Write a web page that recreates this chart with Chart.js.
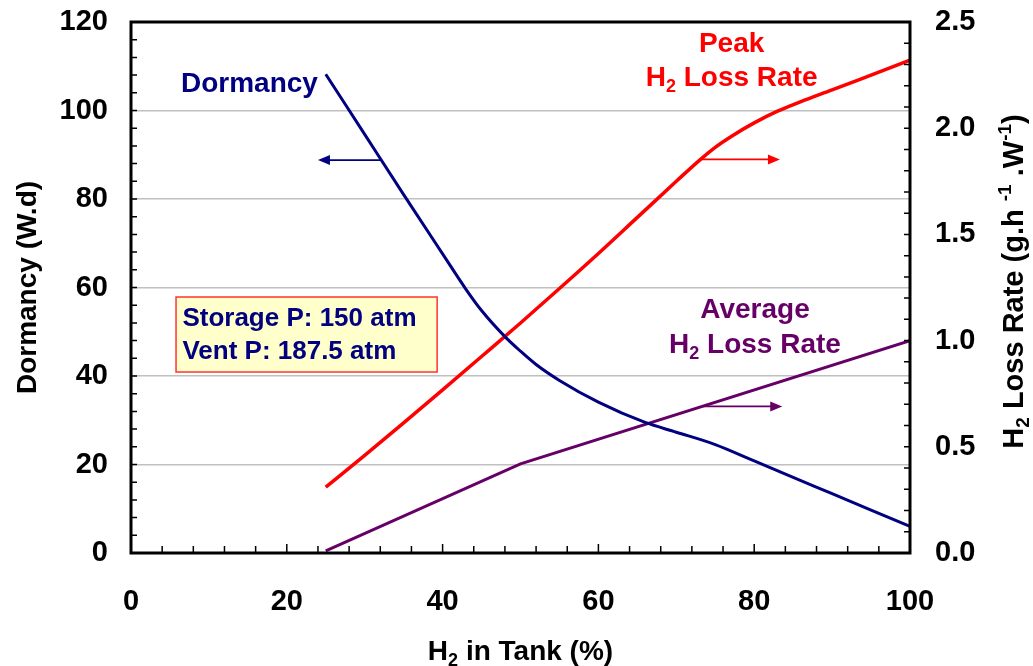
<!DOCTYPE html>
<html>
<head>
<meta charset="utf-8">
<script src="https://cdn.jsdelivr.net/npm/chart.js@4.4.1/dist/chart.umd.min.js"></script>
<style>
  body { margin: 0; background: #fff; }
  #wrap { width: 1033px; height: 666px; position: relative; }
</style>
</head>
<body>
<div id="wrap"><canvas id="grafico"></canvas></div>
<script>
// H2 in tank (%) and the three curves
var dormX = [25, 30, 35, 40, 43, 45, 48, 50, 52, 55, 60, 66, 70, 75, 80, 85, 90, 95, 100];
var dormY = [108.2, 94.6, 81, 67.6, 59.6, 54.8, 48.9, 45.6, 42.6, 39.0, 34.1, 29.5, 27.3, 24.5, 20.8, 17.1, 13.4, 9.7, 6];

var peakX = [25, 30, 35, 40, 45, 50, 55, 60, 65, 70, 73, 75, 77, 80, 83, 86, 90, 95, 100];
var peakY = [0.31, 0.46, 0.613, 0.768, 0.925, 1.083, 1.245, 1.41, 1.58, 1.75, 1.85, 1.91, 1.96, 2.025, 2.08, 2.125, 2.18, 2.25, 2.32];

var avgX = [25, 50, 100];
var avgY = [0.01, 0.42, 1.0];

var xTicks = [0, 20, 40, 60, 80, 100];
var leftTicks = [0, 20, 40, 60, 80, 100, 120];
var rightTicks = [0, 0.5, 1.0, 1.5, 2.0, 2.5];

var NAVY = '#000080', RED = '#ff0000', PURPLE = '#660066';
var FONT = '"Liberation Sans", Arial, sans-serif';

function pts(xs, ys) {
    return xs.map(function(x, i) { return { x: x, y: ys[i] }; });
}

// text with sub/superscripts, segs: [text, 'sub'|'sup'|undefined]
function richWidth(ctx, segs, size) {
    var w = 0;
    segs.forEach(function(s) {
        ctx.font = 'bold ' + (s[1] ? Math.round(size * 0.65) : size) + 'px ' + FONT;
        w += ctx.measureText(s[0]).width;
    });
    return w;
}
function drawRich(ctx, segs, x, y, size, color) {
    var w = richWidth(ctx, segs, size);
    var cx = x - w / 2;
    ctx.fillStyle = color;
    ctx.textAlign = 'left';
    ctx.textBaseline = 'alphabetic';
    segs.forEach(function(s) {
        var sz = s[1] ? Math.round(size * 0.65) : size;
        var dy = s[1] === 'sub' ? size * 0.22 : (s[1] === 'sup' ? -size * 0.42 : 0);
        ctx.font = 'bold ' + sz + 'px ' + FONT;
        ctx.fillText(s[0], cx, y + dy);
        cx += ctx.measureText(s[0]).width;
    });
}

// labels on the plot, in data units (axis: 'y' left, 'y2' right)
var notas = [
    { segs: [['Dormancy']], x: 15.2, y: 104.1, axis: 'y', color: NAVY },
    { segs: [['Peak']], x: 77.1, y: 2.359, axis: 'y2', color: RED },
    { segs: [['H'], ['2', 'sub'], [' Loss Rate']], x: 77.1, y: 2.201, axis: 'y2', color: RED },
    { segs: [['Average']], x: 80.1, y: 1.106, axis: 'y2', color: PURPLE },
    { segs: [['H'], ['2', 'sub'], [' Loss Rate']], x: 80.1, y: 0.942, axis: 'y2', color: PURPLE }
];
var flechas = [
    { x0: 32.1, x1: 24.0, y: 88.8, axis: 'y', color: NAVY },
    { x0: 73.0, x1: 83.3, y: 1.853, axis: 'y2', color: RED },
    { x0: 73.4, x1: 83.6, y: 0.69, axis: 'y2', color: PURPLE }
];
var caja = { x0: 5.78, x1: 39.3, y0: 57.85, y1: 40.9, tx: 6.6, lines: ['Storage P: 150 atm', 'Vent P: 187.5 atm'], base: [51.4, 43.8] };

var extras = {
    id: 'extras',
    afterDatasetsDraw: function(chart) {
        var ctx = chart.ctx, a = chart.chartArea, s = chart.scales;
        ctx.save();

        // minor ticks pointing inward
        ctx.strokeStyle = '#000';
        ctx.lineWidth = 1.5;
        ctx.beginPath();
        for (var v = 0; v <= 100; v += 4) {
            var px = s.x.getPixelForValue(v);
            ctx.moveTo(px, a.bottom);
            ctx.lineTo(px, a.bottom - (v % 20 === 0 ? 9 : 7));
        }
        for (var v = 0; v <= 120; v += 4) {
            var py = s.y.getPixelForValue(v);
            ctx.moveTo(a.left, py);
            ctx.lineTo(a.left + 6, py);
        }
        for (var k = 0; k <= 25; k++) {
            var py = s.y2.getPixelForValue(k / 10);
            ctx.moveTo(a.right, py);
            ctx.lineTo(a.right - 6, py);
        }
        ctx.stroke();

        // frame
        ctx.lineWidth = 3;
        ctx.strokeRect(a.left, a.top, a.right - a.left, a.bottom - a.top);

        // arrows
        flechas.forEach(function(f) {
            var y = s[f.axis].getPixelForValue(f.y);
            var p0 = s.x.getPixelForValue(f.x0), p1 = s.x.getPixelForValue(f.x1);
            var dir = p1 > p0 ? 1 : -1;
            ctx.strokeStyle = f.color;
            ctx.fillStyle = f.color;
            ctx.lineWidth = 1.8;
            ctx.beginPath();
            ctx.moveTo(p0, y);
            ctx.lineTo(p1 - dir * 10, y);
            ctx.stroke();
            ctx.beginPath();
            ctx.moveTo(p1, y);
            ctx.lineTo(p1 - dir * 12, y - 5);
            ctx.lineTo(p1 - dir * 12, y + 5);
            ctx.closePath();
            ctx.fill();
        });

        // pressure box
        var bx0 = s.x.getPixelForValue(caja.x0), bx1 = s.x.getPixelForValue(caja.x1);
        var by0 = s.y.getPixelForValue(caja.y0), by1 = s.y.getPixelForValue(caja.y1);
        ctx.fillStyle = '#ffffcc';
        ctx.fillRect(bx0, by0, bx1 - bx0, by1 - by0);
        ctx.strokeStyle = '#ff3333';
        ctx.lineWidth = 1.5;
        ctx.strokeRect(bx0, by0, bx1 - bx0, by1 - by0);
        ctx.fillStyle = NAVY;
        ctx.font = 'bold 26px ' + FONT;
        ctx.textAlign = 'left';
        ctx.textBaseline = 'alphabetic';
        caja.lines.forEach(function(t, i) {
            ctx.fillText(t, s.x.getPixelForValue(caja.tx), s.y.getPixelForValue(caja.base[i]));
        });

        // curve labels
        notas.forEach(function(n) {
            drawRich(ctx, n.segs, s.x.getPixelForValue(n.x), s[n.axis].getPixelForValue(n.y), 28, n.color);
        });

        // axis titles
        var midY = (a.top + a.bottom) / 2;
        drawRich(ctx, [['H'], ['2', 'sub'], [' in Tank (%)']], (a.left + a.right) / 2, a.bottom + 107, 28, '#000');

        ctx.save();
        ctx.translate(35.5, midY);
        ctx.rotate(-Math.PI / 2);
        drawRich(ctx, [['Dormancy (W.d)']], 0, 0, 28, '#000');
        ctx.restore();

        ctx.save();
        ctx.translate(a.right + 113, midY - 6);
        ctx.rotate(-Math.PI / 2);
        drawRich(ctx, [['H'], ['2', 'sub'], [' Loss Rate (g.h '], ['-1', 'sup'], [' .W'], ['-1', 'sup'], [')']], 0, 0, 29, '#000');
        ctx.restore();

        ctx.restore();
    }
};

var tickFont = { family: FONT, size: 29, weight: 'bold' };

function noPad(sc) {
    sc.paddingTop = 0;
    sc.paddingBottom = 0;
    sc.paddingLeft = 0;
    sc.paddingRight = 0;
}

var ctxG = document.getElementById('grafico').getContext('2d');
var grafico = new Chart(ctxG, {
    type: 'line',
    data: {
        datasets: [{
            label: 'Dormancy',
            data: pts(dormX, dormY),
            yAxisID: 'y',
            borderColor: NAVY,
            borderWidth: 3,
            pointRadius: 0,
            cubicInterpolationMode: 'monotone'
        }, {
            label: 'Peak H2 Loss Rate',
            data: pts(peakX, peakY),
            yAxisID: 'y2',
            borderColor: RED,
            borderWidth: 3.5,
            pointRadius: 0,
            cubicInterpolationMode: 'monotone'
        }, {
            label: 'Average H2 Loss Rate',
            data: pts(avgX, avgY),
            yAxisID: 'y2',
            borderColor: PURPLE,
            borderWidth: 3,
            pointRadius: 0,
            tension: 0
        }]
    },
    options: {
        responsive: true,
        maintainAspectRatio: false,
        animation: false,
        layout: { padding: { top: 22, left: 0, right: 0, bottom: 0 } },
        plugins: {
            legend: { display: false },
            tooltip: { enabled: false }
        },
        scales: {
            x: {
                type: 'linear',
                min: 0,
                max: 100,
                afterFit: function(sc) { sc.height = 113; noPad(sc); },
                afterBuildTicks: function(sc) { sc.ticks = xTicks.map(function(v) { return { value: v }; }); },
                grid: { display: false, drawTicks: false },
                border: { display: false },
                ticks: { color: '#000', font: tickFont, padding: 32, maxRotation: 0 }
            },
            y: {
                position: 'left',
                min: 0,
                max: 120,
                afterFit: function(sc) { sc.width = 131; noPad(sc); },
                afterBuildTicks: function(sc) { sc.ticks = leftTicks.map(function(v) { return { value: v }; }); },
                grid: { color: '#c0c0c0', lineWidth: 1.5, drawTicks: false },
                border: { display: false },
                ticks: { color: '#000', font: tickFont, padding: 23 }
            },
            y2: {
                position: 'right',
                min: 0,
                max: 2.5,
                afterFit: function(sc) { sc.width = 123; noPad(sc); },
                afterBuildTicks: function(sc) { sc.ticks = rightTicks.map(function(v) { return { value: v }; }); },
                grid: { display: false, drawTicks: false },
                border: { display: false },
                ticks: {
                    color: '#000',
                    font: tickFont,
                    padding: 25,
                    callback: function(v) { return v.toFixed(1); }
                }
            }
        }
    },
    plugins: [extras]
});
</script>
</body>
</html>
